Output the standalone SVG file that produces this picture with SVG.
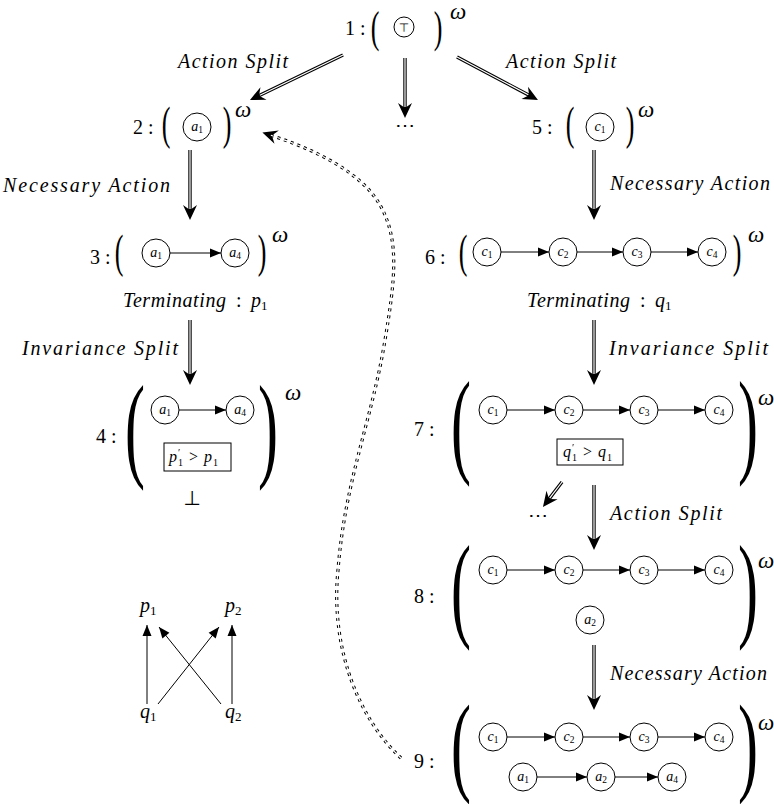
<svg xmlns="http://www.w3.org/2000/svg" width="774" height="804" viewBox="0 0 774 804" font-family="'Liberation Serif', serif">
<style>
.lab{font-family:"Liberation Serif",serif;font-style:italic;font-size:20px}
.num{font-family:"Liberation Serif",serif;font-size:20px}
.om{font-family:"Liberation Serif",serif;font-style:italic;font-size:23px}
.par{font-family:"Liberation Serif",serif;font-size:26px;text-anchor:middle}
.bpar{font-family:"Liberation Serif",serif;font-size:60px;text-anchor:middle}
.circ{fill:#fff;stroke:#000;stroke-width:1}
.ct{font-family:"Liberation Serif",serif;font-style:italic;font-size:14px;text-anchor:middle}
.sub{font-style:normal;font-size:9.5px}
.tsub{font-style:normal;font-size:13px}
.dblk{stroke:#000;stroke-width:3.4;fill:none}
.dwht{stroke:#fff;stroke-width:1.2;fill:none}
.edge{stroke:#000;stroke-width:1;fill:none}
.box{fill:#fff;stroke:#000;stroke-width:1}
.math{font-family:"Liberation Serif",serif;font-size:16px}
.dots{font-family:"DejaVu Serif",serif;font-size:20px;text-anchor:middle;letter-spacing:1px}
</style>
<defs>
<marker id="big" markerUnits="userSpaceOnUse" markerWidth="20" markerHeight="20" viewBox="-10 -10 20 20" refX="0" refY="0" orient="auto">
<path d="M8,0 L-7,-7 L-2,0 L-7,7 Z" fill="#000"/>
</marker>
<marker id="sm" markerUnits="userSpaceOnUse" markerWidth="14" markerHeight="14" viewBox="-12 -6 14 12" refX="0" refY="0" orient="auto">
<path d="M0,0 L-11,-4.5 L-11,4.5 Z" fill="#000"/>
</marker>
</defs>

<g id="connectors">
<path class="dblk" d="M343,55 L257.2,96.5" marker-end="url(#big)"/><path class="dwht" d="M343,55 L259.9,95.2"/>
<path class="dblk" d="M405,58 L405,110" marker-end="url(#big)"/><path class="dwht" d="M405,58 L405,107"/>
<path class="dblk" d="M457,57 L530.9,96.2" marker-end="url(#big)"/><path class="dwht" d="M457,57 L528.3,94.8"/>
<path class="dblk" d="M190,150 L190,212" marker-end="url(#big)"/><path class="dwht" d="M190,150 L190,209"/>
<path class="dblk" d="M594,150 L594,212" marker-end="url(#big)"/><path class="dwht" d="M594,150 L594,209"/>
<path class="dblk" d="M190,320 L190,377" marker-end="url(#big)"/><path class="dwht" d="M190,320 L190,374"/>
<path class="dblk" d="M594,320 L594,377" marker-end="url(#big)"/><path class="dwht" d="M594,320 L594,374"/>
<path class="dblk" d="M562,482 L547.8,500.6" marker-end="url(#big)"/><path class="dwht" d="M562,482 L549.7,498.2"/>
<path class="dblk" d="M594,485 L594,542" marker-end="url(#big)"/><path class="dwht" d="M594,485 L594,539"/>
<path class="dblk" d="M594,645 L594,702" marker-end="url(#big)"/><path class="dwht" d="M594,645 L594,699"/>
<path d="M401,758 C360,720 330,650 338,570 C345,480 372,420 385,340 C395,280 400,240 380,205 C360,170 310,148 270,135" stroke="#000" stroke-width="3.2" fill="none" stroke-dasharray="3 4" marker-end="url(#big)"/>
<path d="M401,758 C360,720 330,650 338,570 C345,480 372,420 385,340 C395,280 400,240 380,205 C360,170 310,148 270,135" stroke="#fff" stroke-width="1.2" fill="none" stroke-dasharray="3 4"/>
<text class="lab" x="178" y="68" textLength="110" lengthAdjust="spacing">Action Split</text>
<text class="lab" x="506" y="68" textLength="110" lengthAdjust="spacing">Action Split</text>
<text class="dots" x="405" y="132">⋯</text>
<text class="lab" x="3" y="192" textLength="167" lengthAdjust="spacing">Necessary Action</text>
<text class="lab" x="610" y="190" textLength="160" lengthAdjust="spacing">Necessary Action</text>
<text class="lab" x="22" y="355" textLength="156" lengthAdjust="spacing">Invariance Split</text>
<text class="lab" x="609" y="355" textLength="159" lengthAdjust="spacing">Invariance Split</text>
<text class="dots" x="538" y="522">⋯</text>
<text class="lab" x="610" y="520" textLength="112" lengthAdjust="spacing">Action Split</text>
<text class="lab" x="610" y="680" textLength="157" lengthAdjust="spacing">Necessary Action</text>
</g>

<g id="n1">
<text class="num" x="345" y="35">1 :</text>
<text class="par" transform="translate(375,31) scale(1,1.68)" y="6.5">(</text>
<circle class="circ" cx="404" cy="27" r="10"/>
<text x="404" y="32" font-family="DejaVu Sans,sans-serif" font-size="12" text-anchor="middle">⊤</text>
<text class="par" transform="translate(438,31) scale(1,1.68)" y="6.5">)</text>
<text class="om" x="450" y="19">ω</text>
</g>

<g id="n2">
<text class="num" x="133" y="134">2 :</text>
<text class="par" transform="translate(166,127) scale(1,1.8)" y="6.5">(</text>
<circle class="circ" cx="197" cy="127" r="14"/>
<text class="ct" x="197" y="131">a<tspan class="sub" dy="2">1</tspan></text>
<text class="par" transform="translate(227,127) scale(1,1.8)" y="6.5">)</text>
<text class="om" x="235" y="117">ω</text>
</g>

<g id="n5">
<text class="num" x="532" y="134">5 :</text>
<text class="par" transform="translate(570,127) scale(1,1.8)" y="6.5">(</text>
<circle class="circ" cx="600" cy="127" r="14"/>
<text class="ct" x="600" y="131">c<tspan class="sub" dy="2">1</tspan></text>
<text class="par" transform="translate(630,127) scale(1,1.8)" y="6.5">)</text>
<text class="om" x="638" y="117">ω</text>
</g>

<g id="n3">
<text class="num" x="90" y="264">3 :</text>
<text class="par" transform="translate(119,255) scale(1,1.8)" y="6.5">(</text>
<circle class="circ" cx="156" cy="253" r="14"/>
<text class="ct" x="156" y="257">a<tspan class="sub" dy="2">1</tspan></text>
<path class="edge" d="M170,253 L221,253" marker-end="url(#sm)"/>
<circle class="circ" cx="235" cy="253" r="14"/>
<text class="ct" x="235" y="257">a<tspan class="sub" dy="2">4</tspan></text>
<text class="par" transform="translate(262,255) scale(1,1.8)" y="6.5">)</text>
<text class="om" x="272" y="242">ω</text>
<text class="lab" x="123" y="307"><tspan textLength="103" lengthAdjust="spacing">Terminating</tspan><tspan font-style="normal" x="236">:</tspan><tspan x="251">p</tspan><tspan class="tsub" dy="3">1</tspan></text>
</g>

<g id="n6">
<text class="num" x="425" y="264">6 :</text>
<text class="par" transform="translate(463,255) scale(1,1.8)" y="6.5">(</text>
<circle class="circ" cx="487" cy="252" r="14"/>
<text class="ct" x="487" y="256">c<tspan class="sub" dy="2">1</tspan></text>
<path class="edge" d="M501,252 L549,252" marker-end="url(#sm)"/>
<circle class="circ" cx="563" cy="252" r="14"/>
<text class="ct" x="563" y="256">c<tspan class="sub" dy="2">2</tspan></text>
<path class="edge" d="M577,252 L623,252" marker-end="url(#sm)"/>
<circle class="circ" cx="637" cy="252" r="14"/>
<text class="ct" x="637" y="256">c<tspan class="sub" dy="2">3</tspan></text>
<path class="edge" d="M651,252 L698,252" marker-end="url(#sm)"/>
<circle class="circ" cx="712" cy="252" r="14"/>
<text class="ct" x="712" y="256">c<tspan class="sub" dy="2">4</tspan></text>
<text class="par" transform="translate(737,255) scale(1,1.8)" y="6.5">)</text>
<text class="om" x="748" y="242">ω</text>
<text class="lab" x="527" y="307"><tspan textLength="103" lengthAdjust="spacing">Terminating</tspan><tspan font-style="normal" x="640">:</tspan><tspan x="655">q</tspan><tspan class="tsub" dy="3">1</tspan></text>
</g>

<g id="n4">
<text class="num" x="96" y="443">4 :</text>
<text class="bpar" transform="translate(135,437) scale(1,1.95)" y="15">(</text>
<circle class="circ" cx="165" cy="410" r="14"/>
<text class="ct" x="165" y="414">a<tspan class="sub" dy="2">1</tspan></text>
<path class="edge" d="M179,410 L226,410" marker-end="url(#sm)"/>
<circle class="circ" cx="240" cy="410" r="14"/>
<text class="ct" x="240" y="414">a<tspan class="sub" dy="2">4</tspan></text>
<rect class="box" x="164" y="443" width="67" height="28"/>
<text class="math"><tspan x="169" y="462" font-style="italic">p</tspan><tspan x="178" y="456" font-size="10">′</tspan><tspan x="178" y="466" font-size="10">1</tspan><tspan x="189" y="462">&gt;</tspan><tspan x="204" y="462" font-style="italic">p</tspan><tspan x="213" y="466" font-size="10">1</tspan></text>
<text class="bpar" transform="translate(268,437) scale(1,1.95)" y="15">)</text>
<text class="om" x="285" y="400">ω</text>
<text x="192" y="505" font-family="DejaVu Sans,sans-serif" font-size="20" text-anchor="middle">⊥</text>
</g>

<g id="n7">
<text class="num" x="414" y="436">7 :</text>
<text class="bpar" transform="translate(461,433) scale(1,1.95)" y="15">(</text>
<circle class="circ" cx="493" cy="410" r="14"/>
<text class="ct" x="493" y="414">c<tspan class="sub" dy="2">1</tspan></text>
<path class="edge" d="M507,410 L555,410" marker-end="url(#sm)"/>
<circle class="circ" cx="569" cy="410" r="14"/>
<text class="ct" x="569" y="414">c<tspan class="sub" dy="2">2</tspan></text>
<path class="edge" d="M583,410 L630,410" marker-end="url(#sm)"/>
<circle class="circ" cx="644" cy="410" r="14"/>
<text class="ct" x="644" y="414">c<tspan class="sub" dy="2">3</tspan></text>
<path class="edge" d="M658,410 L705,410" marker-end="url(#sm)"/>
<circle class="circ" cx="719" cy="410" r="14"/>
<text class="ct" x="719" y="414">c<tspan class="sub" dy="2">4</tspan></text>
<rect class="box" x="557" y="439" width="66" height="26"/>
<text class="math"><tspan x="563" y="457" font-style="italic">q</tspan><tspan x="572" y="451" font-size="10">′</tspan><tspan x="572" y="461" font-size="10">1</tspan><tspan x="583" y="457">&gt;</tspan><tspan x="598" y="457" font-style="italic">q</tspan><tspan x="607" y="461" font-size="10">1</tspan></text>
<text class="bpar" transform="translate(748,433) scale(1,1.95)" y="15">)</text>
<text class="om" x="758" y="405">ω</text>
</g>

<g id="n8">
<text class="num" x="414" y="603">8 :</text>
<text class="bpar" transform="translate(461,597) scale(1,1.95)" y="15">(</text>
<circle class="circ" cx="493" cy="570" r="14"/>
<text class="ct" x="493" y="574">c<tspan class="sub" dy="2">1</tspan></text>
<path class="edge" d="M507,570 L555,570" marker-end="url(#sm)"/>
<circle class="circ" cx="569" cy="570" r="14"/>
<text class="ct" x="569" y="574">c<tspan class="sub" dy="2">2</tspan></text>
<path class="edge" d="M583,570 L630,570" marker-end="url(#sm)"/>
<circle class="circ" cx="644" cy="570" r="14"/>
<text class="ct" x="644" y="574">c<tspan class="sub" dy="2">3</tspan></text>
<path class="edge" d="M658,570 L705,570" marker-end="url(#sm)"/>
<circle class="circ" cx="719" cy="570" r="14"/>
<text class="ct" x="719" y="574">c<tspan class="sub" dy="2">4</tspan></text>
<circle class="circ" cx="590" cy="620" r="14"/>
<text class="ct" x="590" y="624">a<tspan class="sub" dy="2">2</tspan></text>
<text class="bpar" transform="translate(748,597) scale(1,1.95)" y="15">)</text>
<text class="om" x="758" y="568">ω</text>
</g>

<g id="n9">
<text class="num" x="414" y="768">9 :</text>
<text class="bpar" transform="translate(461,754) scale(1,1.82)" y="15">(</text>
<circle class="circ" cx="493" cy="737" r="14"/>
<text class="ct" x="493" y="741">c<tspan class="sub" dy="2">1</tspan></text>
<path class="edge" d="M507,737 L555,737" marker-end="url(#sm)"/>
<circle class="circ" cx="569" cy="737" r="14"/>
<text class="ct" x="569" y="741">c<tspan class="sub" dy="2">2</tspan></text>
<path class="edge" d="M583,737 L630,737" marker-end="url(#sm)"/>
<circle class="circ" cx="644" cy="737" r="14"/>
<text class="ct" x="644" y="741">c<tspan class="sub" dy="2">3</tspan></text>
<path class="edge" d="M658,737 L705,737" marker-end="url(#sm)"/>
<circle class="circ" cx="719" cy="737" r="14"/>
<text class="ct" x="719" y="741">c<tspan class="sub" dy="2">4</tspan></text>
<circle class="circ" cx="523" cy="777" r="14"/>
<text class="ct" x="523" y="781">a<tspan class="sub" dy="2">1</tspan></text>
<path class="edge" d="M537,777 L587,777" marker-end="url(#sm)"/>
<circle class="circ" cx="601" cy="777" r="14"/>
<text class="ct" x="601" y="781">a<tspan class="sub" dy="2">2</tspan></text>
<path class="edge" d="M615,777 L658,777" marker-end="url(#sm)"/>
<circle class="circ" cx="672" cy="777" r="14"/>
<text class="ct" x="672" y="781">a<tspan class="sub" dy="2">4</tspan></text>
<text class="bpar" transform="translate(748,754) scale(1,1.82)" y="15">)</text>
<text class="om" x="758" y="730">ω</text>
</g>

<g id="pq">
<g id="p1"><text class="lab" x="140" y="612">p<tspan class="tsub" dy="3">1</tspan></text></g>
<g id="p2"><text class="lab" x="225" y="612">p<tspan class="tsub" dy="3">2</tspan></text></g>
<g id="q1"><text class="lab" x="140" y="718">q<tspan class="tsub" dy="3">1</tspan></text></g>
<g id="q2"><text class="lab" x="225" y="718">q<tspan class="tsub" dy="3">2</tspan></text></g>
<g id="pq-edges">
<path class="edge" d="M147,704 L147,625" marker-end="url(#sm)"/>
<path class="edge" d="M232,704 L232,625" marker-end="url(#sm)"/>
<path class="edge" d="M158,704 L219,627" marker-end="url(#sm)"/>
<path class="edge" d="M221,704 L159,627" marker-end="url(#sm)"/>
</g>
</g>
</svg>
